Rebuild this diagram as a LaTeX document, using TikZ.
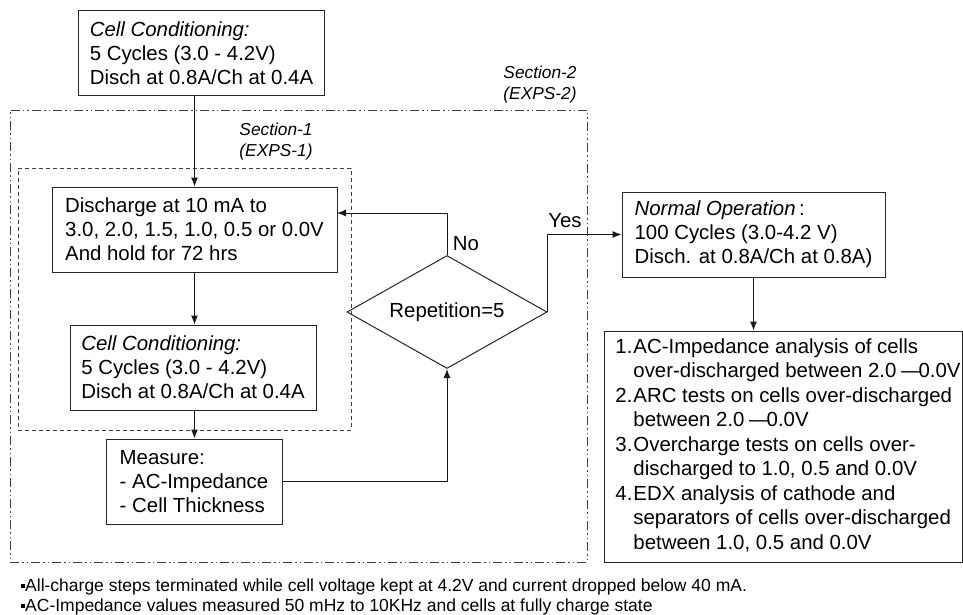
\documentclass[tikz,border=0pt]{standalone}
\usepackage{fontspec}
\setmainfont{Liberation Sans}
\usetikzlibrary{shapes.geometric,arrows.meta}
\begin{document}
\begin{tikzpicture}[x=1pt,y=-1pt,
  box/.style={draw=black!85, line width=1pt, inner xsep=11pt, inner ysep=0pt, align=left, anchor=center,
    font=\fontsize{20.4}{24}\selectfont},
  decision/.style={diamond, draw=black!85, line width=1pt, inner sep=0pt, aspect=1.77,
    minimum width=200pt, minimum height=113pt, font=\fontsize{20.4}{24}\selectfont},
  arr/.style={-{Latex[length=9pt,width=7pt]}, line width=1pt, draw=black!90},
  lbl/.style={font=\fontsize{20.4}{24}\selectfont, inner sep=0pt},
  seclbl/.style={font=\fontsize{17.3}{21}\selectfont\itshape, align=center, inner sep=0pt},
  outerframe/.style={draw=black!75, line width=0.9pt, dash pattern=on 9pt off 3pt on 1.5pt off 3pt on 1.5pt off 3pt},
  innerframe/.style={draw=black!75, line width=0.9pt, dash pattern=on 4pt off 3pt},
  note/.style={font=\fontsize{17.5}{20}\selectfont, align=left, inner sep=0pt, anchor=west}
]
\useasboundingbox (0,0) rectangle (963,615);

% frames
\node[outerframe, minimum width=577pt, minimum height=452pt, inner sep=0pt] (sec2) at (298.5,336) {};
\node[innerframe, minimum width=333pt, minimum height=262pt, inner sep=0pt] (sec1) at (184.5,299) {};
\node[seclbl] (sec2lbl) at (540,85) {Section-2\\(EXPS-2)};
\node[seclbl] (sec1lbl) at (276,142) {Section-1\\(EXPS-1)};

% boxes
\node[box, minimum width=245pt, minimum height=85pt] (top) at (201.5,53.5)
  {\textit{Cell Conditioning:}\\5 Cycles (3.0 - 4.2V)\\Disch at 0.8A/Ch at 0.4A};
\node[box, minimum width=285pt, minimum height=85pt] (dis) at (194.5,229.5)
  {Discharge at 10 mA to\\3.0, 2.0, 1.5, 1.0, 0.5 or 0.0V\\And hold for 72 hrs};
\node[box, minimum width=246pt, minimum height=85pt] (cond) at (193,367.5)
  {\textit{Cell Conditioning:}\\5 Cycles (3.0 - 4.2V)\\Disch at 0.8A/Ch at 0.4A};
\node[box, minimum width=176pt, minimum height=85pt] (meas) at (194,481.5)
  {Measure:\\- AC-Impedance\\- Cell Thickness};
\node[decision] (rep) at (447,312) {Repetition=5};
\node[box, minimum width=263pt, minimum height=85pt] (norm) at (753.5,234.5)
  {\textit{Normal Operation}\,:\\100 Cycles (3.0-4.2 V)\\Disch. at 0.8A/Ch at 0.8A)};
\node[box, minimum width=358pt, minimum height=231pt, inner xsep=0pt] (res) at (783,446.5)
  {\fontsize{20.4}{24.5}\selectfont
   \begin{tabular}{@{\hspace{10pt}}l@{\hspace{1pt}}l@{}}
   1. & AC-Impedance analysis of cells\\
      & over-discharged between 2.0 \kern-1pt—\kern-3pt0.0V\\
   2. & ARC tests on cells over-discharged\\
      & between 2.0 \kern-1pt—\kern-3pt0.0V\\
   3. & Overcharge tests on cells over-\\
      & discharged to 1.0, 0.5 and 0.0V\\
   4. & EDX analysis of cathode and\\
      & separators of cells over-discharged\\
      & between 1.0, 0.5 and 0.0V
   \end{tabular}};

% labels
\node[lbl] (no) at (466,244) {No};
\node[lbl] (yes) at (565,221) {Yes};

% notes
\node[note] (notes) at (21,597)
  {\raisebox{3.5pt}{\rule{4pt}{4pt}}All-charge steps terminated while cell voltage kept at 4.2V and current dropped below 40 mA.\\
   \raisebox{3.5pt}{\rule{4pt}{4pt}}AC-Impedance values measured 50 mHz to 10KHz and cells at fully charge state};

% connectors
\draw[arr] (dis.north |- top.south) -- (dis.north);
\draw[arr] (dis.south) -- (dis.south |- cond.north);
\draw[arr] (dis.south |- cond.south) -- (dis.south |- meas.north);
\draw[arr] (meas.east) -| (rep.south);
\coordinate (noback) at (337,213);
\draw[arr] (rep.north) |- (noback);
\draw[arr] (rep.east) |- (norm.west);
\draw[arr] (norm.south) -- (norm.south |- res.north);
\end{tikzpicture}
\end{document}
